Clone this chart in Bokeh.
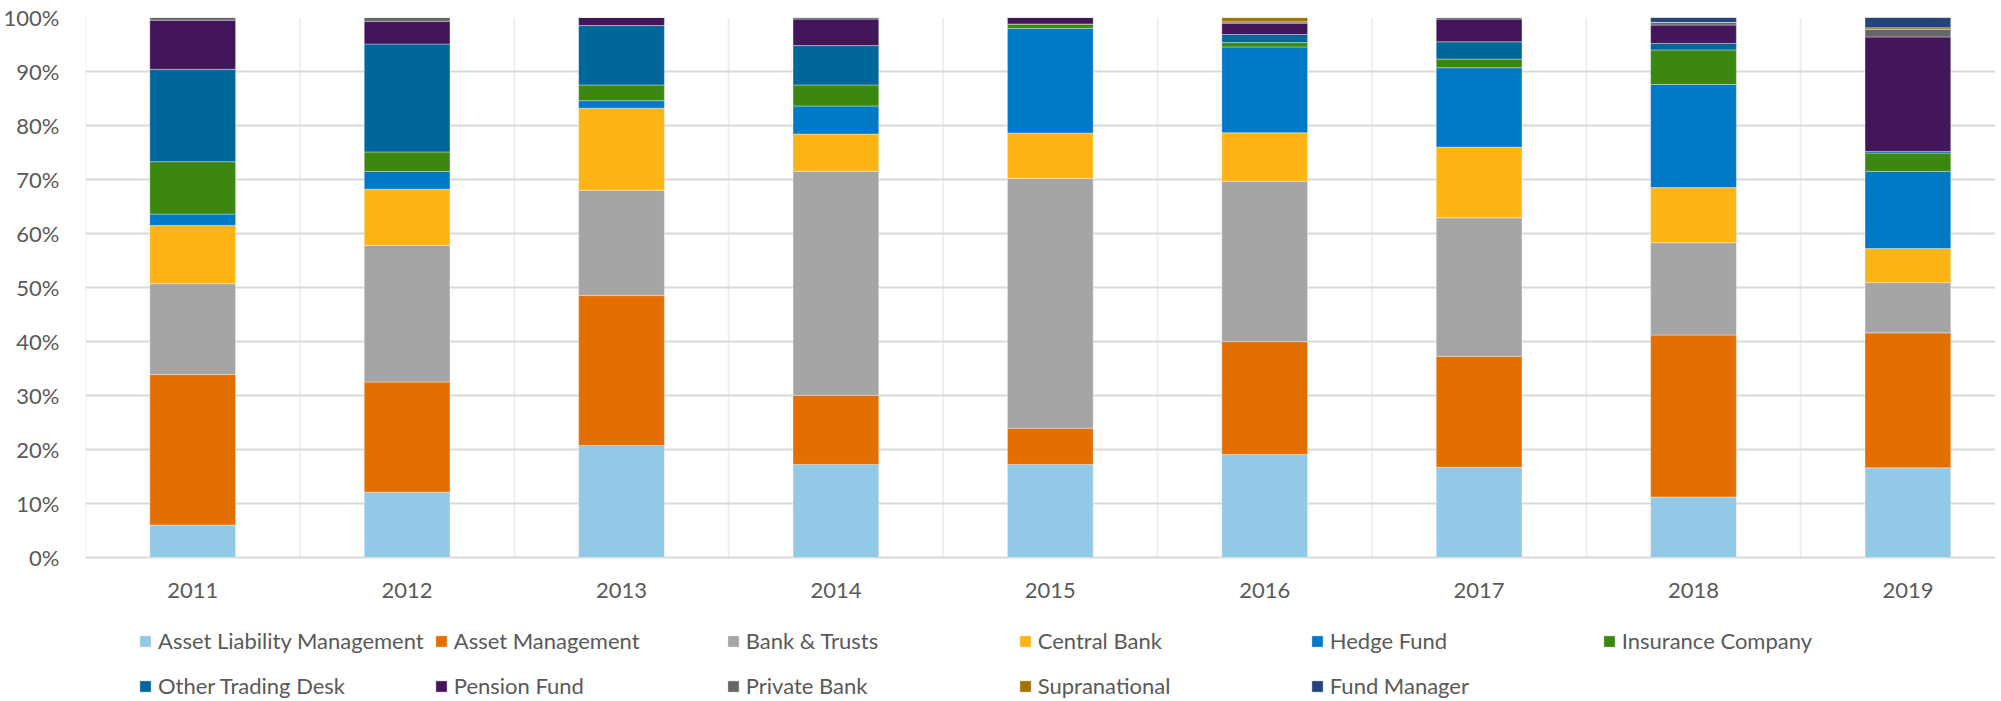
from bokeh.plotting import figure
from bokeh.models import (Range1d, FixedTicker, Legend, LegendItem,
                          PrintfTickFormatter, ColumnDataSource)
from bokeh.core.properties import value
from bokeh.embed import file_html
from bokeh.resources import INLINE

years = ["2011", "2012", "2013", "2014", "2015", "2016", "2017", "2018", "2019"]

asset_liability_management = [6.0, 12.1, 20.75, 17.25, 17.25, 19.1, 16.7, 11.2, 16.6]
asset_management = [27.9, 20.4, 27.75, 12.8, 6.7, 20.9, 20.55, 30.0, 25.0]
bank_trusts = [16.8, 25.3, 19.5, 41.5, 46.3, 29.7, 25.65, 17.1, 9.3]
central_bank = [10.8, 10.4, 15.2, 6.9, 8.4, 9.0, 13.1, 10.2, 6.3]
hedge_fund = [2.1, 3.3, 1.4, 5.2, 19.4, 15.9, 14.7, 19.1, 14.3]
insurance_company = [9.7, 3.6, 2.9, 3.9, 0.8, 0.8, 1.6, 6.4, 3.4]
other_trading_desk = [17.1, 20.0, 11.0, 7.3, 0.0, 1.5, 3.2, 1.2, 0.3]
pension_fund = [9.1, 4.2, 1.5, 4.9, 1.2, 2.1, 4.2, 3.4, 21.2]
private_bank = [0.5, 0.7, 0.0, 0.3, 0.0, 0.25, 0.3, 0.5, 1.4]
supranational = [0.0, 0.0, 0.0, 0.0, 0.0, 0.8, 0.0, 0.0, 0.3]
fund_manager = [0.0, 0.0, 0.0, 0.0, 0.0, 0.0, 0.0, 0.9, 1.9]

series_names = ["Asset Liability Management", "Asset Management", "Bank & Trusts",
                "Central Bank", "Hedge Fund", "Insurance Company",
                "Other Trading Desk", "Pension Fund", "Private Bank",
                "Supranational", "Fund Manager"]
series_values = [asset_liability_management, asset_management, bank_trusts,
                 central_bank, hedge_fund, insurance_company, other_trading_desk,
                 pension_fund, private_bank, supranational, fund_manager]
colors = ["#92C9E6", "#E26F00", "#A5A5A5", "#FEB415", "#0079C7", "#3B870F",
          "#00679B", "#43155B", "#666666", "#A07400", "#264478"]
y_ticks = [0, 10, 20, 30, 40, 50, 60, 70, 80, 90, 100]

FONT = "Lato"
TXT = "#595959"

# normalise to 100 % per year (100% stacked chart)
n = len(years)
totals = [sum(v[i] for v in series_values) for i in range(n)]
data = {"x": list(range(n)), "year": years}
keys = []
for k, vals in enumerate(series_values):
    key = f"s{k}"
    keys.append(key)
    data[key] = [vals[i] / totals[i] * 100 for i in range(n)]
src = ColumnDataSource(data)

# frame extends below 0 % to host the category labels and the legend
PX_PER_PCT = 5.4
BELOW = 142 / PX_PER_PCT          # extra room under the 0 % line (in % units)
LABEL_Y = -33 / PX_PER_PCT        # category label position under the 0 % line

p = figure(frame_width=1910, frame_height=682, output_backend="svg",
           toolbar_location=None, x_axis_location=None,
           x_range=Range1d(-0.5, -0.5 + 1910 / 214.4),
           y_range=Range1d(-BELOW, 100),
           min_border_left=85, min_border_right=0, min_border_top=17,
           min_border_bottom=0)
p.outline_line_color = None
p.background_fill_color = "white"

# no default vertical grid (it would show under the bar centres)
p.xgrid.grid_line_color = None
p.xgrid.visible = False

# horizontal grid (incl. the category axis line at 0 %)
p.ygrid.ticker = FixedTicker(ticks=y_ticks)
p.ygrid.grid_line_color = "#D9D9D9"
p.ygrid.grid_line_width = 2

# vertical category separators, limited to the 0-100 % band
bounds = [i - 0.5 for i in range(n + 1)]
p.segment(x0=bounds, y0=[0] * len(bounds), x1=bounds, y1=[100] * len(bounds),
          line_color="#EFEFEF", line_width=2, level="image")

renderers = p.vbar_stack(keys, x="x", width=0.4, source=src, color=colors,
                         line_color="white", line_alpha=0.35, line_width=1)

# category labels
p.text(x="x", y=LABEL_Y, text="year", source=src,
       text_align="center", text_baseline="middle",
       text_font=value(FONT), text_font_size="22px", text_color=TXT)

# y axis
p.yaxis.ticker = FixedTicker(ticks=y_ticks)
p.yaxis.formatter = PrintfTickFormatter(format="%d%%")
p.yaxis.axis_line_color = None
p.yaxis.major_tick_line_color = None
p.yaxis.minor_tick_line_color = None
p.yaxis.major_label_standoff = 20
p.yaxis.major_label_text_font = FONT
p.yaxis.major_label_text_font_size = "22px"
p.yaxis.major_label_text_color = TXT

# legend: 6 columns, 2 rows, at the bottom of the frame
items = [LegendItem(label=name, renderers=[r]) for name, r in zip(series_names, renderers)]
leg = Legend(items=items, orientation="horizontal", ncols=6,
             location=(53, -4),
             glyph_width=14, glyph_height=14, label_standoff=6,
             label_width=262, label_height=35, spacing=10,
             padding=0, margin=0,
             border_line_color=None, background_fill_alpha=0,
             label_text_font=FONT, label_text_font_size="22px",
             label_text_color=TXT)
p.add_layout(leg, "center")

open("out.html", "w").write(file_html(p, INLINE))
